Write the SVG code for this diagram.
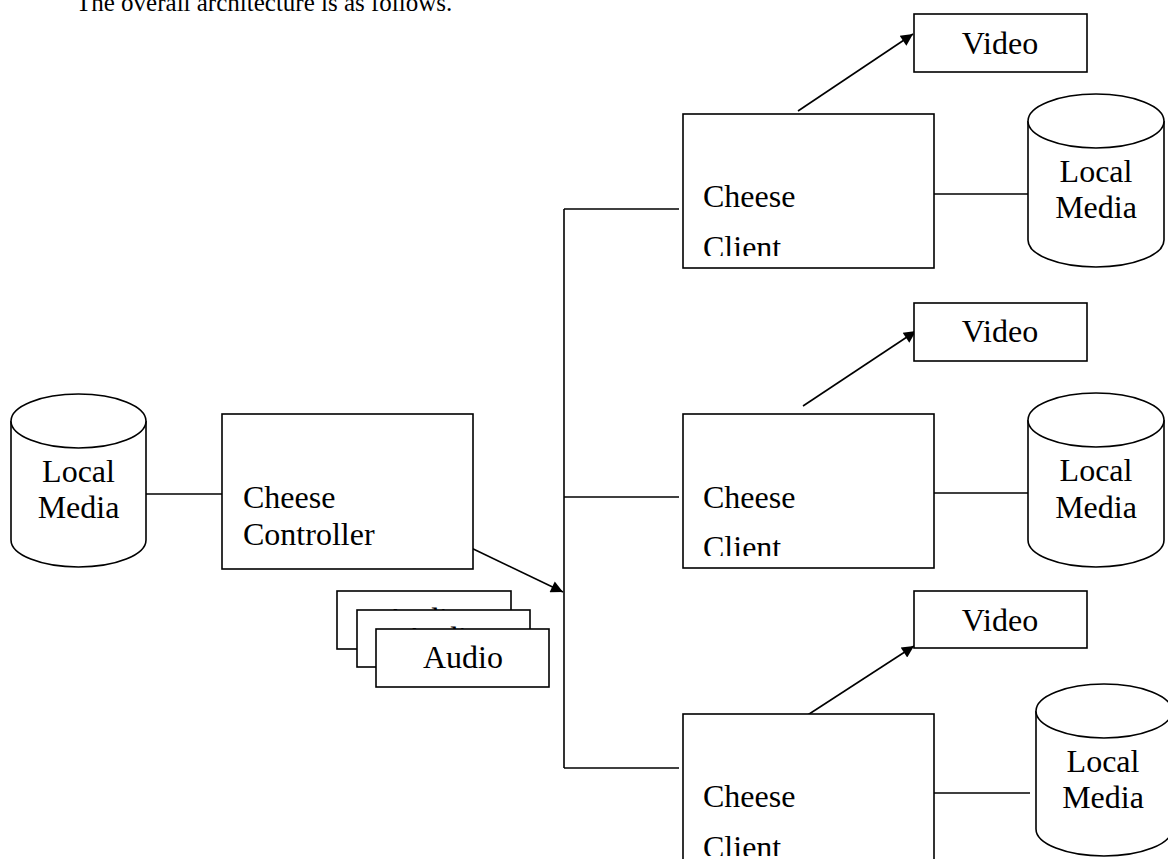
<svg xmlns="http://www.w3.org/2000/svg" width="1168" height="859" viewBox="0 0 1168 859">
<style>
.box{fill:#fff;stroke:#000;stroke-width:1.6}
.ln{fill:none;stroke:#000;stroke-width:1.6}
.t{font-family:"Liberation Serif","Times New Roman",serif;font-size:32px;fill:#000}
.c{text-anchor:middle}
.title{font-family:"Liberation Serif","Times New Roman",serif;font-size:25px;fill:#000}
</style>
<defs>
<marker id="ah" viewBox="0 0 10 10" refX="10" refY="5" markerWidth="14" markerHeight="12" markerUnits="userSpaceOnUse" orient="auto">
<path d="M0,0 L10,5 L0,10 z" fill="#000"/>
</marker>
<clipPath id="cp1"><rect x="684" y="115" width="249" height="141"/></clipPath>
<clipPath id="cp2"><rect x="684" y="415" width="249" height="141"/></clipPath>
<clipPath id="cp3"><rect x="684" y="715" width="249" height="141"/></clipPath>
</defs>
<rect width="1168" height="859" fill="#fff"/>
<text class="title" x="76" y="11">The overall architecture is as follows.</text>

<g id="connectors">
<line class="ln" x1="146" y1="494" x2="222" y2="494"/>
<line class="ln" x1="465" y1="545" x2="563" y2="592" marker-end="url(#ah)"/>
<line class="ln" x1="564" y1="209" x2="564" y2="768"/>
<line class="ln" x1="564" y1="209" x2="679" y2="209"/>
<line class="ln" x1="564" y1="497" x2="679" y2="497"/>
<line class="ln" x1="564" y1="768" x2="679" y2="768"/>
<line class="ln" x1="934" y1="194" x2="1028" y2="194"/>
<line class="ln" x1="934" y1="493" x2="1028" y2="493"/>
<line class="ln" x1="934" y1="793" x2="1030" y2="793"/>
<line class="ln" x1="798" y1="111" x2="913" y2="34" marker-end="url(#ah)"/>
<line class="ln" x1="803" y1="406" x2="916" y2="331" marker-end="url(#ah)"/>
<line class="ln" x1="803" y1="718" x2="914" y2="646" marker-end="url(#ah)"/>
</g>

<g id="local-media-left">
<path class="box" d="M11,421 L11,540 A67.5,27 0 0 0 146,540 L146,421"/>
<ellipse class="box" cx="78.5" cy="421" rx="67.5" ry="27"/>
<text class="t c" x="78.5" y="482">Local</text>
<text class="t c" x="78.5" y="518">Media</text>
</g>

<g id="cheese-controller">
<rect class="box" x="222" y="414" width="251" height="155"/>
<text class="t" x="243" y="508">Cheese</text>
<text class="t" x="243" y="545">Controller</text>
</g>

<g id="audio-stack">
<rect class="box" x="337" y="591" width="174" height="58"/>
<text class="t c" x="424" y="630">Audio</text>
<rect class="box" x="357" y="610" width="173" height="57"/>
<text class="t c" x="443" y="649">Audio</text>
<rect class="box" x="376" y="629" width="173" height="58"/>
<text class="t c" x="463" y="668">Audio</text>
</g>

<g id="client-1">
<rect class="box" x="683" y="114" width="251" height="154"/>
<text class="t" x="703" y="207">Cheese</text>
<text class="t" x="703" y="258" clip-path="url(#cp1)">Client</text>
</g>
<g id="video-1">
<rect class="box" x="914" y="14" width="173" height="58"/>
<text class="t c" x="1000" y="54">Video</text>
</g>
<g id="local-media-1">
<path class="box" d="M1028,121 L1028,240 A68,27 0 0 0 1164,240 L1164,121"/>
<ellipse class="box" cx="1096" cy="121" rx="68" ry="27"/>
<text class="t c" x="1096" y="182">Local</text>
<text class="t c" x="1096" y="218">Media</text>
</g>

<g id="client-2">
<rect class="box" x="683" y="414" width="251" height="154"/>
<text class="t" x="703" y="508">Cheese</text>
<text class="t" x="703" y="558" clip-path="url(#cp2)">Client</text>
</g>
<g id="video-2">
<rect class="box" x="914" y="303" width="173" height="58"/>
<text class="t c" x="1000" y="342">Video</text>
</g>
<g id="local-media-2">
<path class="box" d="M1028,420 L1028,540 A68,27 0 0 0 1164,540 L1164,420"/>
<ellipse class="box" cx="1096" cy="420" rx="68" ry="27"/>
<text class="t c" x="1096" y="481">Local</text>
<text class="t c" x="1096" y="518">Media</text>
</g>

<g id="client-3">
<rect class="box" x="683" y="714" width="251" height="160"/>
<text class="t" x="703" y="807">Cheese</text>
<text class="t" x="703" y="858" clip-path="url(#cp3)">Client</text>
</g>
<g id="video-3">
<rect class="box" x="914" y="591" width="173" height="57"/>
<text class="t c" x="1000" y="631">Video</text>
</g>
<g id="local-media-3">
<path class="box" d="M1036,711 L1036,829 A68,27 0 0 0 1172,829 L1172,711"/>
<ellipse class="box" cx="1104" cy="711" rx="68" ry="27"/>
<text class="t c" x="1103" y="772">Local</text>
<text class="t c" x="1103" y="808">Media</text>
</g>
</svg>
